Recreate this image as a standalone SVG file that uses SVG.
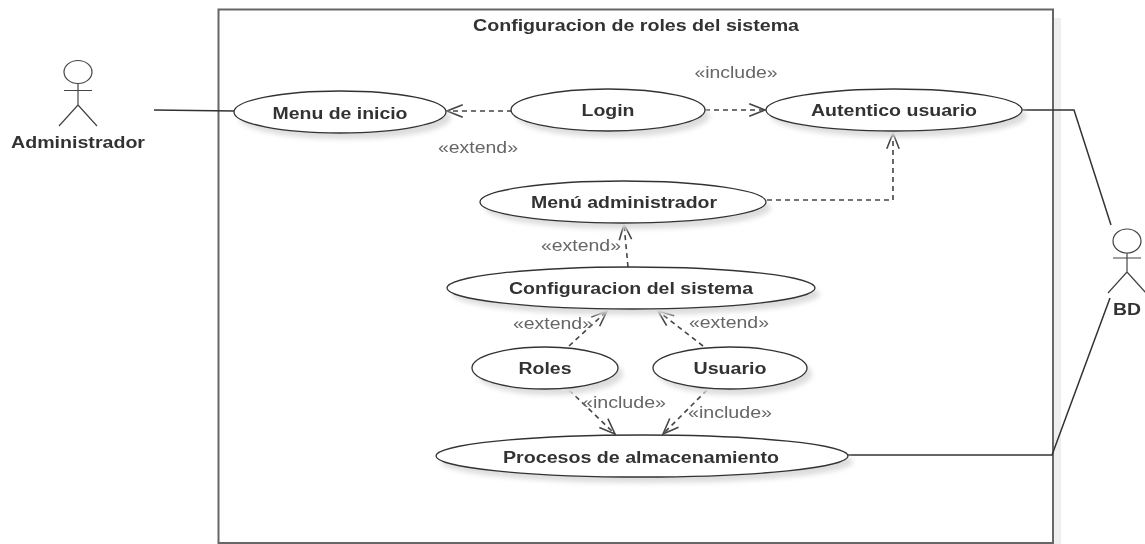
<svg xmlns="http://www.w3.org/2000/svg" width="1145" height="544" viewBox="0 0 1145 544">
<style>
text{font-family:"Liberation Sans",Arial,sans-serif;text-anchor:middle}
.b{font-size:16px;font-weight:bold;fill:#333}
.s{font-size:16px;fill:#666}
.u{fill:#fff;stroke:#333;stroke-width:1.3}
.sh{fill:#ddd;filter:url(#bl)}
.a{fill:none;stroke:#444;stroke-width:1.2}
.c{fill:none;stroke:#333;stroke-width:1.5}
.d{fill:none;stroke:#444;stroke-width:1.6;stroke-dasharray:5 4;marker-end:url(#o)}
</style>
<defs>
<filter id="bl" x="-20%" y="-50%" width="140%" height="200%"><feGaussianBlur stdDeviation="2.5"/></filter>
<filter id="soft" filterUnits="userSpaceOnUse" x="0" y="0" width="1145" height="544"><feGaussianBlur stdDeviation="0.4"/></filter>
<marker id="o" markerUnits="userSpaceOnUse" markerWidth="18" markerHeight="18" refX="15" refY="8" orient="auto" viewBox="0 0 16 16"><path d="M1 2.500L15 8L1 13.500" fill="none" stroke="#444" stroke-width="1.4"/></marker>
</defs>
<rect width="1145" height="544" fill="#fff"/>
<g filter="url(#soft)">
<rect x="1054" y="18" width="7" height="526" fill="#eee"/>
<g id="system">
<rect x="218.500" y="9.500" width="834.500" height="533.500" fill="#fff" stroke="#666" stroke-width="2"/>
<text class="b" x="636" y="31" textLength="326" lengthAdjust="spacingAndGlyphs">Configuracion de roles del sistema</text>
</g>
<g id="connectors">
<path class="c" d="M154 110L234 111"/>
<path class="c" d="M1022 110H1074L1111 225"/>
<path class="c" d="M848 455H1052L1110 298"/>
<path class="d" d="M512 111H447"/>
<path class="d" d="M705 110H765"/>
<path class="d" d="M767 200H893V133"/>
<path class="d" d="M628 267L624 224"/>
<path class="d" d="M569 346L607 311"/>
<path class="d" d="M703 346L658 311"/>
<path class="d" d="M569 390L615 434"/>
<path class="d" d="M707 390L663 434"/>
<g class="s">
<text x="736" y="78" textLength="83" lengthAdjust="spacingAndGlyphs">«include»</text>
<text x="478" y="153" textLength="80" lengthAdjust="spacingAndGlyphs">«extend»</text>
<text x="581" y="251" textLength="80" lengthAdjust="spacingAndGlyphs">«extend»</text>
<text x="553" y="329" textLength="80" lengthAdjust="spacingAndGlyphs">«extend»</text>
<text x="729" y="328" textLength="80" lengthAdjust="spacingAndGlyphs">«extend»</text>
<text x="624" y="408" textLength="84" lengthAdjust="spacingAndGlyphs">«include»</text>
<text x="730" y="418" textLength="84" lengthAdjust="spacingAndGlyphs">«include»</text>
</g>
</g>
<g id="actor-administrador">
<ellipse class="a" cx="78" cy="72" rx="14" ry="11.500"/>
<path class="a" d="M78 83.500V105M64 90.500H92M59 126L78 105L97 126"/>
<text class="b" x="78" y="148" textLength="134" lengthAdjust="spacingAndGlyphs">Administrador</text>
</g>
<g id="actor-bd">
<ellipse class="a" cx="1127" cy="241" rx="14" ry="12"/>
<path class="a" d="M1127 253V272M1113 258H1141M1108 293L1127 272L1146 293"/>
<text class="b" x="1127" y="315" textLength="28" lengthAdjust="spacingAndGlyphs">BD</text>
</g>
<g id="uc-menu-inicio">
<ellipse class="sh" cx="345" cy="118" rx="106" ry="21"/>
<ellipse class="u" cx="340" cy="112" rx="106" ry="21"/>
<text class="b" x="340" y="119" textLength="135" lengthAdjust="spacingAndGlyphs">Menu de inicio</text>
</g>
<g id="uc-login">
<ellipse class="sh" cx="613" cy="116" rx="97" ry="21"/>
<ellipse class="u" cx="608" cy="110" rx="97" ry="21"/>
<text class="b" x="608" y="116" textLength="53" lengthAdjust="spacingAndGlyphs">Login</text>
</g>
<g id="uc-autentico">
<ellipse class="sh" cx="899" cy="116" rx="128" ry="21"/>
<ellipse class="u" cx="894" cy="110" rx="128" ry="21"/>
<text class="b" x="894" y="116" textLength="166" lengthAdjust="spacingAndGlyphs">Autentico usuario</text>
</g>
<g id="uc-menu-admin">
<ellipse class="sh" cx="628" cy="208" rx="143" ry="21"/>
<ellipse class="u" cx="623" cy="202" rx="143" ry="21"/>
<text class="b" x="624" y="208" textLength="186" lengthAdjust="spacingAndGlyphs">Menú administrador</text>
</g>
<g id="uc-config">
<ellipse class="sh" cx="636" cy="294" rx="184" ry="21"/>
<ellipse class="u" cx="631" cy="288" rx="184" ry="21"/>
<text class="b" x="631" y="294" textLength="244" lengthAdjust="spacingAndGlyphs">Configuracion del sistema</text>
</g>
<g id="uc-roles">
<ellipse class="sh" cx="550" cy="374" rx="73" ry="21"/>
<ellipse class="u" cx="545" cy="368" rx="73" ry="21"/>
<text class="b" x="545" y="374" textLength="53" lengthAdjust="spacingAndGlyphs">Roles</text>
</g>
<g id="uc-usuario">
<ellipse class="sh" cx="735" cy="374" rx="77" ry="21"/>
<ellipse class="u" cx="730" cy="368" rx="77" ry="21"/>
<text class="b" x="730" y="374" textLength="73" lengthAdjust="spacingAndGlyphs">Usuario</text>
</g>
<g id="uc-procesos">
<ellipse class="sh" cx="647" cy="462" rx="206" ry="21"/>
<ellipse class="u" cx="642" cy="456" rx="206" ry="21"/>
<text class="b" x="641" y="463" textLength="276" lengthAdjust="spacingAndGlyphs">Procesos de almacenamiento</text>
</g>
</g>
</svg>
